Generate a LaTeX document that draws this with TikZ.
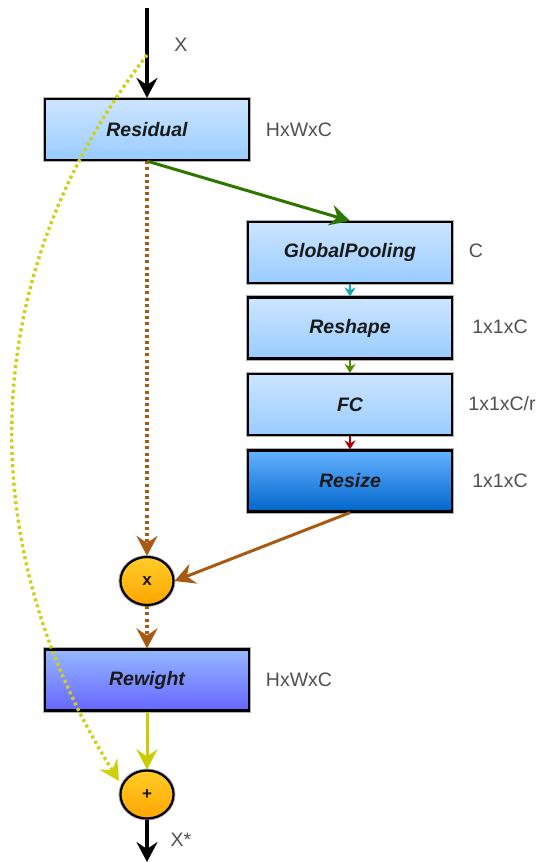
\documentclass[tikz,border=0pt]{standalone}
\usepackage{fontspec}
\setmainfont{Liberation Sans}
\usetikzlibrary{arrows.meta,shapes.geometric}
\definecolor{boxtop}{HTML}{CCE5FF}
\definecolor{boxbot}{HTML}{99CCFF}
\definecolor{rstop}{HTML}{66B2FF}
\definecolor{rsbot}{HTML}{0066CC}
\definecolor{rwtop}{HTML}{95B8FF}
\definecolor{rwbot}{HTML}{6666FF}
\definecolor{ortop}{HTML}{FFCD28}
\definecolor{orbot}{HTML}{FFA500}
\definecolor{greenedge}{HTML}{2D7600}
\definecolor{brownedge}{HTML}{A85A12}
\definecolor{yellowedge}{HTML}{CCCC00}
\definecolor{yellowdot}{HTML}{D0D010}
\definecolor{tealedge}{HTML}{12A6AE}
\definecolor{smallgreen}{HTML}{4D8C00}
\definecolor{rededge}{HTML}{B00010}
\definecolor{labelgray}{HTML}{505050}
\definecolor{textdark}{HTML}{1A1A1A}
\definecolor{halo}{HTML}{B0B0B0}
\tikzset{
  stagebox/.style={draw=black, line width=2.2pt, minimum width=204pt, minimum height=61pt,
    inner sep=0pt, top color=boxtop, bottom color=boxbot, text=textdark,
    preaction={draw=halo, line width=4.5pt},
    font=\fontsize{19.5}{22}\selectfont\bfseries\itshape},
  opcircle/.style={draw=black, line width=2.2pt, ellipse, minimum width=53pt, minimum height=48pt,
    inner sep=0pt, top color=ortop, bottom color=orbot, text=textdark,
    preaction={draw=halo, line width=4pt},
    font=\fontsize{17}{19}\selectfont\bfseries},
  dimlabel/.style={text=labelgray, font=\fontsize{19.5}{22}\selectfont, inner sep=0pt},
  bigtip/.style={-{Stealth[length=20pt,width=21pt,inset=7pt]}},
  smalltip/.style={-{Stealth[length=9pt,width=11pt,inset=3pt]}, line width=2pt},
  dotline/.style={line width=3.4pt, dash pattern=on 3pt off 3.2pt},
}
\begin{document}
\begin{tikzpicture}[x=1pt,y=-1pt]
\useasboundingbox (0,0) rectangle (538,862);
% nodes
\coordinate (start) at (147,8);
\coordinate (split) at (147,55);
\coordinate (finish) at (147,862);
\coordinate (yend) at (119,781);
\node[stagebox] (res) at (147,129.5) {Residual};
\node[stagebox] (gp) at (350,252.5) {GlobalPooling};
\node[stagebox] (rsh) at (350,328) {Reshape};
\node[stagebox] (fc) at (350,404.5) {FC};
\node[stagebox, top color=rstop, bottom color=rsbot] (rsz) at (350,481) {Resize};
\node[opcircle] (mul) at (147,581) {x};
\node[stagebox, top color=rwtop, bottom color=rwbot] (rw) at (147,680) {Rewight};
\node[opcircle] (add) at (147,794.5) {+};
% labels
\node[dimlabel] (lx) at (181,45) {X};
\node[dimlabel] (l1) at (299,130) {HxWxC};
\node[dimlabel] (l2) at (476,251) {C};
\node[dimlabel] (l3) at (500,327) {1x1xC};
\node[dimlabel] (l4) at (502,404) {1x1xC/r};
\node[dimlabel] (l5) at (500,481) {1x1xC};
\node[dimlabel] (l6) at (299,680) {HxWxC};
\node[dimlabel] (l7) at (181,840) {X*};
% connectors
\draw[bigtip, line width=3.4pt, black] (start) -- (res.north);
\draw[bigtip, line width=3pt, greenedge] (res.south) -- (gp.north);
\draw[smalltip, tealedge] (gp.south) -- (rsh.north);
\draw[smalltip, smallgreen] (rsh.south) -- (fc.north);
\draw[smalltip, rededge] (fc.south) -- (rsz.north);
\draw[bigtip, line width=3pt, brownedge] (rsz.south) -- (mul.east);
\draw[bigtip, dotline, brownedge] (res.south) -- (mul.north);
\draw[bigtip, dotline, brownedge] (mul.south) -- (rw.north);
\draw[bigtip, line width=3pt, yellowedge] (rw.south) -- (add.north);
\draw[bigtip, dotline, yellowdot] (split) .. controls (-35,290) and (-20,560) .. (yend);
\draw[bigtip, line width=3.4pt, black] (add.south) -- (finish);
\end{tikzpicture}
\end{document}
